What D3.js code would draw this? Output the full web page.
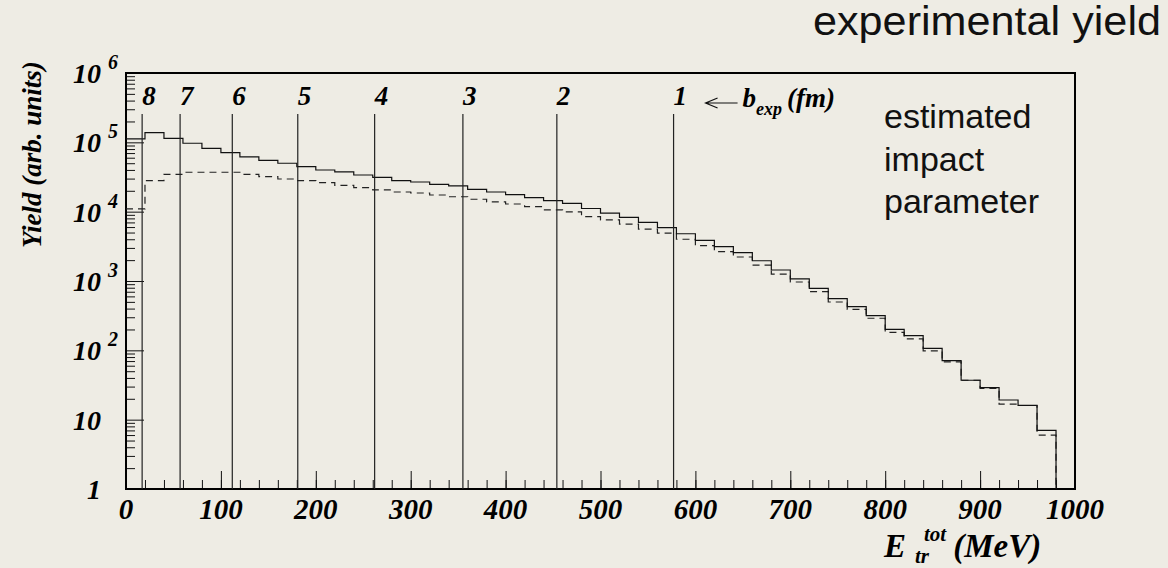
<!DOCTYPE html>
<html>
<head>
<meta charset="utf-8">
<script src="https://cdn.jsdelivr.net/npm/d3@7"></script>
<style>
  body { margin: 0; background: #eeece4; }
  svg { display: block; }
  .serif { font-family: "Liberation Serif", "Times New Roman", serif; font-weight: bold; font-style: italic; fill: #000; }
  .sans { font-family: "Liberation Sans", Arial, sans-serif; fill: #111; }
</style>
</head>
<body>
<svg id="chart"></svg>
<script>
// bin lower edges (MeV), 20 MeV wide
var binLow = [0, 20, 40, 60, 80, 100, 120, 140, 160, 180,
  200, 220, 240, 260, 280, 300, 320, 340, 360, 380,
  400, 420, 440, 460, 480, 500, 520, 540, 560, 580,
  600, 620, 640, 660, 680, 700, 720, 740, 760, 780,
  800, 820, 840, 860, 880, 900, 920, 940, 960];
var binWidth = 20;

// experimental yield (solid)
var yieldExp = [1.12e5, 1.38e5, 1.14e5, 9.7e4, 8.2e4, 7.1e4, 6.15e4, 5.5e4, 4.99e4, 4.46e4,
  3.99e4, 3.74e4, 3.38e4, 3.13e4, 2.8e4, 2.68e4, 2.48e4, 2.35e4, 2.1e4, 1.92e4,
  1.76e4, 1.59e4, 1.44e4, 1.32e4, 1.11e4, 9.5e3, 8.3e3, 7.0e3, 5.9e3, 4.8e3,
  3.86e3, 3.13e3, 2.56e3, 1.96e3, 1.44e3, 1.07e3, 785, 556, 426, 316,
  201, 163, 107, 71, 37, 29, 19.2, 16.1, 7.0];

// second yield (dashed)
var yieldSim = [1.1e4, 2.8e4, 3.46e4, 3.7e4, 3.7e4, 3.7e4, 3.46e4, 3.2e4, 2.96e4, 2.8e4,
  2.62e4, 2.4e4, 2.22e4, 2.06e4, 1.92e4, 1.86e4, 1.74e4, 1.64e4, 1.51e4, 1.38e4,
  1.29e4, 1.18e4, 1.06e4, 9.9e3, 8.5e3, 7.6e3, 6.6e3, 5.6e3, 4.9e3, 4.0e3,
  3.23e3, 2.65e3, 2.22e3, 1.69e3, 1.26e3, 968, 701, 498, 391, 290,
  182, 146, 98, 68, 37, 28.3, 16.8, 16, 6.0];

// impact parameter cuts b_exp (fm) and their energy position
var bLabels = ["1", "2", "3", "4", "5", "6", "7", "8"];
var bEnergy = [577, 454, 355, 262, 181, 112, 57, 17];

var xTicksMajor = [0, 100, 200, 300, 400, 500, 600, 700, 800, 900, 1000];
var yDecades = [0, 1, 2, 3, 4, 5, 6];

var W = 1168, H = 568;
var margin = {top: 73, right: 93, bottom: 79, left: 126};
var width = W - margin.left - margin.right;
var height = H - margin.top - margin.bottom;

var x = d3.scaleLinear().domain([0, 1000]).range([0, width]);
var y = d3.scaleLog().domain([1, 1e6]).range([height, 0]);

var root = d3.select("#chart").attr("width", W).attr("height", H);
root.append("rect").attr("width", W).attr("height", H).attr("fill", "#eeece4");

var svg = root.append("g")
  .attr("transform", "translate(" + margin.left + "," + margin.top + ")");

// x ticks (inside, pointing up)
var xMinor = d3.range(0, 1001, 20);
svg.append("g")
  .attr("transform", "translate(0," + height + ")")
  .call(d3.axisBottom(x).tickValues(xMinor).tickSize(-9).tickFormat(""))
  .call(function(g) { g.select(".domain").remove(); g.selectAll("line").attr("stroke", "#111"); });
svg.append("g")
  .attr("transform", "translate(0," + height + ")")
  .call(d3.axisBottom(x).tickValues(xTicksMajor).tickSize(-18).tickFormat(""))
  .call(function(g) { g.select(".domain").remove(); g.selectAll("line").attr("stroke", "#111"); });

// y ticks (inside, pointing right)
var yMinor = [];
yDecades.slice(0, -1).forEach(function(e) {
  for (var k = 2; k <= 9; k++) yMinor.push(k * Math.pow(10, e));
});
var yMajor = yDecades.map(function(e) { return Math.pow(10, e); });
svg.append("g")
  .call(d3.axisLeft(y).tickValues(yMinor).tickSize(-9).tickFormat(""))
  .call(function(g) { g.select(".domain").remove(); g.selectAll("line").attr("stroke", "#111"); });
svg.append("g")
  .call(d3.axisLeft(y).tickValues(yMajor).tickSize(-18).tickFormat(""))
  .call(function(g) { g.select(".domain").remove(); g.selectAll("line").attr("stroke", "#111"); });

// frame
svg.append("rect")
  .attr("width", width).attr("height", height)
  .attr("fill", "none").attr("stroke", "#000").attr("stroke-width", 2);

// x tick labels
svg.selectAll(".xlab").data(xTicksMajor).enter().append("text")
  .attr("class", "serif xlab")
  .attr("x", function(d) { return x(d); })
  .attr("y", height + 30)
  .attr("text-anchor", "middle")
  .style("font-size", "29px")
  .text(function(d) { return d; });

// y tick labels
yDecades.forEach(function(e) {
  var yy = y(Math.pow(10, e));
  svg.append("text").attr("class", "serif")
    .attr("x", -25).attr("y", yy + 10)
    .attr("text-anchor", "end")
    .style("font-size", "28px")
    .text(e === 0 ? "1" : "10");
  if (e >= 2) {
    svg.append("text").attr("class", "serif")
      .attr("x", -18).attr("y", yy - 4)
      .style("font-size", "20px")
      .text(e);
  }
});

// histograms
function stepPath(vals) {
  var p = "M" + x(binLow[0]) + "," + y(vals[0]);
  vals.forEach(function(v, i) {
    p += "L" + x(binLow[i]) + "," + y(v) + "L" + x(binLow[i] + binWidth) + "," + y(v);
  });
  p += "L" + x(binLow[binLow.length - 1] + binWidth) + "," + y(1);
  return p;
}
svg.append("path").attr("d", stepPath(yieldSim))
  .attr("fill", "none").attr("stroke", "#222").attr("stroke-width", 1.2)
  .attr("stroke-dasharray", "7,5");
svg.append("path").attr("d", stepPath(yieldExp))
  .attr("fill", "none").attr("stroke", "#111").attr("stroke-width", 1.2);

// b_exp lines
var lineTop = 41;
svg.selectAll(".bline").data(bEnergy).enter().append("line")
  .attr("x1", function(d) { return x(d); }).attr("x2", function(d) { return x(d); })
  .attr("y1", lineTop).attr("y2", height)
  .attr("stroke", "#222").attr("stroke-width", 1.2);
svg.selectAll(".blab").data(bEnergy).enter().append("text")
  .attr("class", "serif")
  .attr("x", function(d) { return x(d); })
  .attr("y", 32)
  .style("font-size", "27px")
  .text(function(d, i) { return bLabels[i]; });

// arrow and b_exp (fm)
var ax = x(bEnergy[0]) + 32;
svg.append("path")
  .attr("d", "M" + (ax + 32) + ",30 L" + ax + ",30 M" + (ax + 12) + ",25 L" + ax + ",30 L" + (ax + 12) + ",35")
  .attr("fill", "none").attr("stroke", "#111").attr("stroke-width", 1.2);
var bt = svg.append("text").attr("class", "serif")
  .attr("x", ax + 37).attr("y", 34).style("font-size", "27px");
bt.append("tspan").text("b");
bt.append("tspan").attr("dy", 8).style("font-size", "18px").text("exp");
bt.append("tspan").attr("dy", -8).attr("dx", 5).text("(fm)");

// annotation inside the frame
["estimated", "impact", "parameter"].forEach(function(t, i) {
  root.append("text").attr("class", "sans")
    .attr("x", 884).attr("y", 128 + i * 42.5)
    .style("font-size", "34px")
    .text(t);
});

// title
root.append("text").attr("class", "sans")
  .attr("x", 813).attr("y", 35)
  .attr("textLength", 348).attr("lengthAdjust", "spacingAndGlyphs")
  .style("font-size", "40px")
  .text("experimental yield");

// axis titles
root.append("text").attr("class", "serif")
  .attr("transform", "translate(41,248) rotate(-90)")
  .style("font-size", "27px")
  .text("Yield (arb. units)");

var xt = root.append("text").attr("class", "serif").attr("x", 884).attr("y", 557)
  .style("font-size", "33px");
xt.append("tspan").text("E");
xt.append("tspan").attr("dx", 9).attr("dy", 6).style("font-size", "21px").text("tr");
xt.append("tspan").attr("dx", -5).attr("dy", -22).style("font-size", "21px").text("tot");
xt.append("tspan").attr("dx", 7).attr("dy", 16).text("(MeV)");
</script>
</body>
</html>
